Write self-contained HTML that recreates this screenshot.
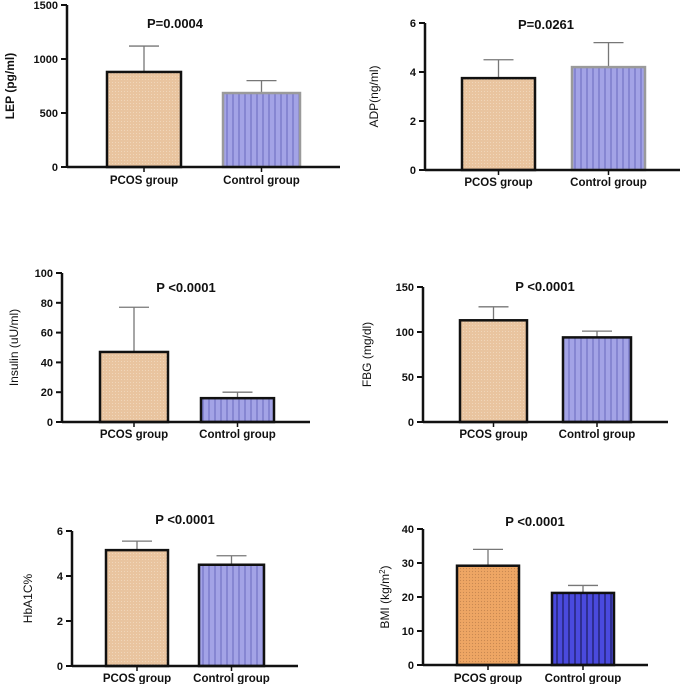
<!DOCTYPE html>
<html><head><meta charset="utf-8"><style>
html,body{margin:0;padding:0;background:#fff;}
svg{display:block;font-family:"Liberation Sans",Arial,sans-serif;}
</style></head><body>
<svg id="s" width="685" height="684" viewBox="0 0 685 684" xmlns="http://www.w3.org/2000/svg">
<defs>
<pattern id="dots" width="3" height="3" patternUnits="userSpaceOnUse"><rect width="3" height="3" fill="#e9c49f"/><circle cx="1.5" cy="1.5" r="0.5" fill="#f3dcc4"/></pattern>
<pattern id="dots2" width="3" height="3" patternUnits="userSpaceOnUse"><rect width="3" height="3" fill="#eea664"/><circle cx="1.5" cy="1.5" r="0.6" fill="#c88850"/></pattern>
<pattern id="vl" width="6" height="6" patternUnits="userSpaceOnUse"><rect width="6" height="6" fill="#a3a3e6"/><line x1="5" y1="0" x2="5" y2="6" stroke="#6a6abf" stroke-width="1"/></pattern>
<pattern id="vl2" width="6" height="6" patternUnits="userSpaceOnUse"><rect width="6" height="6" fill="#4a4ade"/><line x1="5" y1="0" x2="5" y2="6" stroke="#1a1a60" stroke-width="1.2"/></pattern>
</defs>
</svg>
<script>
const categories = ["PCOS group","Control group"];
const lepMeans = [880, 685];
const lepErr = [1120, 800];
const adpMeans = [3.75, 4.2];
const adpErr = [4.5, 5.2];
const insMeans = [47, 16];
const insErr = [77, 20];
const fbgMeans = [113, 94];
const fbgErr = [128, 101];
const hbaMeans = [5.15, 4.5];
const hbaErr = [5.55, 4.9];
const bmiMeans = [29.2, 21.2];
const bmiErr = [34, 23.4];
const lepTicks = [0,500,1000,1500];
const adpTicks = [0,2,4,6];
const insTicks = [0,20,40,60,80,100];
const fbgTicks = [0,50,100,150];
const hbaTicks = [0,2,4,6];
const bmiTicks = [0,10,20,30,40];

const NS="http://www.w3.org/2000/svg";
const svg=document.getElementById('s');
function mk(tag,attrs,parent){const e=document.createElementNS(NS,tag);for(const k in attrs)e.setAttribute(k,attrs[k]);(parent||svg).appendChild(e);return e;}

const panels=[
 {id:'lep',means:lepMeans,err:lepErr,ticks:lepTicks,ax:67,y0:167,y1:5,xEnd:340,bars:[[107,181],[223,300]],title:'P=0.0004',tx:175,ty:28,yl:'LEP (pg/ml)',ylx:14,ylBold:true,fills:['url(#dots)','url(#vl)'],strokes:['#111','#9a9a9a'],ly:184},
 {id:'adp',means:adpMeans,err:adpErr,ticks:adpTicks,ax:425,y0:170,y1:23,xEnd:680,bars:[[462,535],[572,645]],title:'P=0.0261',tx:546,ty:29,yl:'ADP(ng/ml)',ylx:378,fills:['url(#dots)','url(#vl)'],strokes:['#111','#9a9a9a'],ly:186},
 {id:'insulin',means:insMeans,err:insErr,ticks:insTicks,ax:62,y0:422,y1:273,xEnd:310,bars:[[100,168],[201,274]],title:'P <0.0001',tx:186,ty:292,yl:'Insulin (uU/ml)',ylx:18,fills:['url(#dots)','url(#vl)'],strokes:['#111','#111'],ly:438},
 {id:'fbg',means:fbgMeans,err:fbgErr,ticks:fbgTicks,ax:423,y0:422,y1:287,xEnd:668,bars:[[460,527],[563,631]],title:'P <0.0001',tx:545,ty:291,yl:'FBG (mg/dl)',ylx:371,fills:['url(#dots)','url(#vl)'],strokes:['#111','#111'],ly:438},
 {id:'hba1c',means:hbaMeans,err:hbaErr,ticks:hbaTicks,ax:72,y0:666,y1:531,xEnd:298,bars:[[106,168],[199,264]],title:'P <0.0001',tx:185,ty:524,yl:'HbA1C%',ylx:32,fills:['url(#dots)','url(#vl)'],strokes:['#111','#111'],ly:682},
 {id:'bmi',means:bmiMeans,err:bmiErr,ticks:bmiTicks,ax:423,y0:665,y1:529,xEnd:648,bars:[[457,519],[552,614]],title:'P <0.0001',tx:535,ty:526,yl:'BMI (kg/m',sup:true,ylx:389,fills:['url(#dots2)','url(#vl2)'],strokes:['#111','#111'],ly:682}
];

panels.forEach(p=>{
 const g=mk('g',{});
 
 
 const tmax=p.ticks[p.ticks.length-1];
 const y=v=>p.y0-(v/tmax)*(p.y0-p.y1);
 p.means.forEach((m,i)=>{
  const [xa,xb]=p.bars[i]; const cx=(xa+xb)/2;
  const el=mk('line',{x1:cx,x2:cx,y1:y(m),y2:y(p.err[i]),stroke:'#777','stroke-width':1.3},g);
  
  
  const cap=mk('line',{x1:cx-15,x2:cx+15,y1:y(p.err[i]),y2:y(p.err[i]),stroke:'#777','stroke-width':1.3},g);
  
  
  const r=mk('rect',{x:xa,y:y(m),width:xb-xa,height:p.y0-y(m),fill:p.fills[i],stroke:p.strokes[i],'stroke-width':2.5},g);
  
  
  const t=mk('text',{x:cx,y:p.ly,'text-anchor':'middle','font-size':11.5,'font-weight':'bold',fill:'#111'},g);
  t.textContent=categories[i];
  
  
  mk('line',{x1:cx,x2:cx,y1:p.y0,y2:p.y0+5,stroke:'#111','stroke-width':1.5},g);
 });
 const ya=mk('line',{x1:p.ax,x2:p.ax,y1:p.y1,y2:p.y0,stroke:'#111','stroke-width':2.5},g);
 
 
 const xa=mk('line',{x1:p.ax,x2:p.xEnd,y1:p.y0,y2:p.y0,stroke:'#111','stroke-width':2.5},g);
 
 
 p.ticks.forEach(tv=>{
  mk('line',{x1:p.ax-6,x2:p.ax,y1:y(tv),y2:y(tv),stroke:'#111','stroke-width':2},g);
  const t=mk('text',{x:p.ax-9,y:y(tv)+4,'text-anchor':'end','font-size':11,'font-weight':'bold',fill:'#111'},g);
  t.textContent=tv;
  
  
 });
 const tt=mk('text',{x:p.tx,y:p.ty,'text-anchor':'middle','font-size':13,'font-weight':'bold',fill:'#111'},g);
 tt.textContent=p.title;
 
 
 const cy=(p.y0+p.y1)/2;
 const yl=mk('text',{x:p.ylx,y:cy,'text-anchor':'middle','font-size':p.ylBold?12:12,'font-weight':p.ylBold?'bold':'normal',fill:'#111',transform:`rotate(-90 ${p.ylx} ${cy})`},g);
 yl.textContent=p.yl;
 if(p.sup){const s=mk('tspan',{'font-size':8,dy:-4},yl);s.textContent='2';const s2=mk('tspan',{dy:4},yl);s2.textContent=')';}
 
 
});
</script>
</body></html>
